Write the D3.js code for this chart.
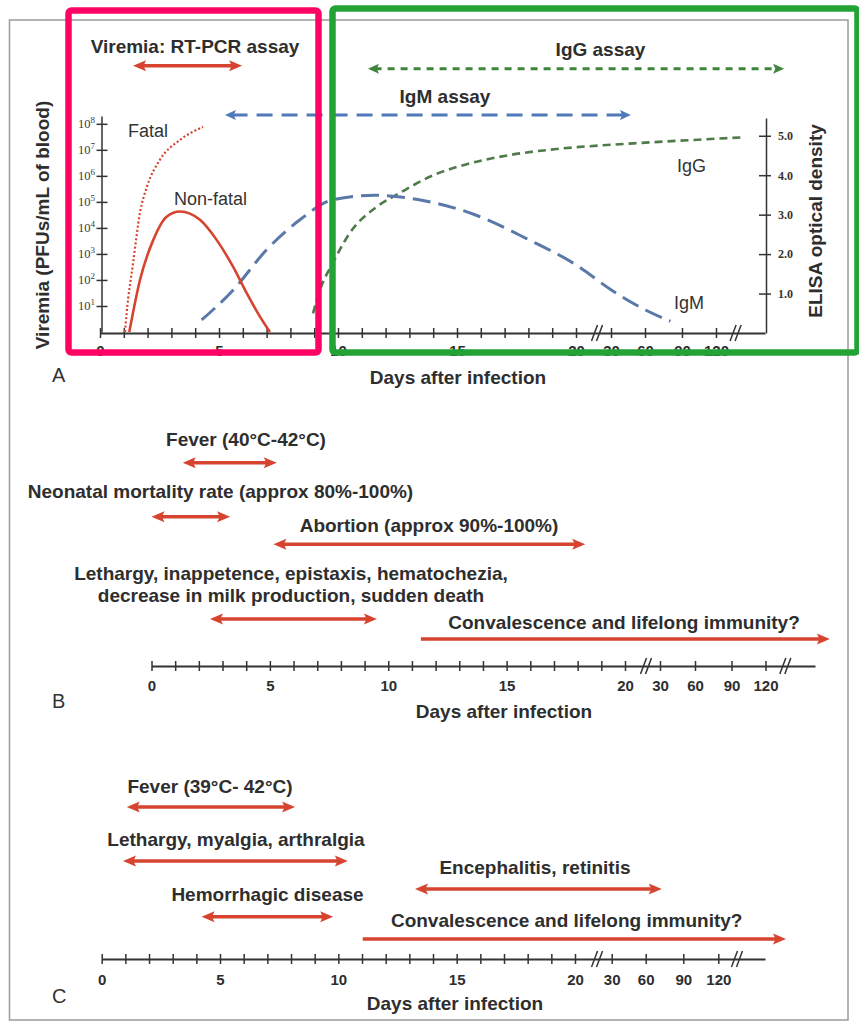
<!DOCTYPE html>
<html>
<head>
<meta charset="utf-8">
<script src="https://cdn.jsdelivr.net/npm/d3@7"></script>
<style>
body { margin: 0; background: #fff; }
svg { display: block; font-family: "Liberation Sans", Arial, Helvetica, sans-serif; }
.lbl { font-weight: bold; font-size: 19px; fill: #2e2e2e; }
.note { font-size: 18px; fill: #333; }
</style>
</head>
<body>
<script>
// ---- data ----
var spanDays = [0, 20, 30, 60, 90, 120, 140];
var dayTicks = d3.range(0, 21);
var tailDays = [30, 60, 90, 120];
var dayLabels = [0, 5, 10, 15, 20, 30, 60, 90, 120];
var breakDays = [26, 128];
var viremiaTicks = [1, 2, 3, 4, 5, 6, 7, 8];
var odTicks = [1, 2, 3, 4, 5];

// [day, log10 PFU/mL]
var fatalCurve = [[1.05, 0], [1.12, 0.73], [1.39, 2.65], [1.68, 4.58], [1.97, 5.58], [2.52, 6.62], [3.36, 7.38], [4.33, 7.88]];
var nonFatalCurve = [[1.23, 0], [1.68, 2.0], [2.24, 3.54], [2.8, 4.43], [3.36, 4.63], [4.2, 4.31], [4.9, 3.54], [5.59, 2.51], [6.16, 1.5], [6.72, 0.59], [7.14, 0]];
// [day, ELISA OD]
var igmCurve = [[4.27, 0.33], [5.6, 1.09], [7.0, 2.11], [8.4, 2.87], [9.79, 3.38], [11.55, 3.49], [13.57, 3.36], [15.7, 3.01], [17.9, 2.4], [20.5, 1.7], [30.3, 1.09], [61.2, 0.57], [80.7, 0.3]];
var iggCurve = [[8.95, 0.5], [9.24, 1.09], [9.79, 1.78], [10.5, 2.54], [11.63, 3.2], [12.6, 3.55], [14, 4.0], [15.3, 4.26], [17.3, 4.52], [19.3, 4.67], [45.9, 4.8], [104, 4.9], [131, 4.96]];

var assayNames = ["Viremia: RT-PCR assay", "IgM assay", "IgG assay"];
var assayStart = [1.39, 5.25, 11.26];
var assayEnd = [5.97, 47.6, 147.8];

var bNames = ["Fever (40°C-42°C)", "Neonatal mortality rate (approx 80%-100%)", "Abortion (approx 90%-100%)",
  "Lethargy, inappetence, epistaxis, hematochezia,\ndecrease in milk production, sudden death", "Convalescence and lifelong immunity?"];
var bStart = [1.32, 0, 5.15, 2.47, 11.38];
var bEnd = [5.29, 3.32, 18.32, 9.52, 146];
var bBoth = [true, true, true, true, false];

var cNames = ["Fever (39°C- 42°C)", "Lethargy, myalgia, arthralgia", "Hemorrhagic disease", "Encephalitis, retinitis", "Convalescence and lifelong immunity?"];
var cStart = [1.06, 0.9, 4.22, 13.24, 11.03];
var cEnd = [8.17, 10.4, 9.78, 72.8, 149];
var cBoth = [true, true, true, true, false];

// ---- layout ----
var RED = "#d6432e";
var svg = d3.select("body").append("svg").attr("width", 859).attr("height", 1025);

svg.append("rect").attr("x", 9.5).attr("y", 20).attr("width", 838.5).attr("height", 1000)
    .attr("fill", "none").attr("stroke", "#9a9a9a").attr("stroke-width", 1.5);

var xA = d3.scaleLinear().domain(spanDays).range([100, 576, 611, 645, 682, 716, 765]);
var xB = d3.scaleLinear().domain(spanDays).range([151.5, 625, 660, 695, 731.5, 765.5, 815]);
var xC = d3.scaleLinear().domain(spanDays).range([101.7, 575, 611.7, 645.7, 683.3, 718.3, 765]);
var yV = d3.scaleLinear().domain([0, 8.3]).range([332, 116]);
var yOD = d3.scaleLinear().domain([0, 5.45]).range([333, 118]);

function arrow(g, x1, x2, y, o) {
    var L = o.head, W = o.w;
    var a = o.both ? x1 + L * 0.6 : x1;
    g.append("line")
        .attr("x1", a).attr("x2", x2 - L * 0.6).attr("y1", y).attr("y2", y)
        .attr("stroke", o.color).attr("stroke-width", o.sw)
        .attr("stroke-dasharray", o.dash || null);
    var head = function (tip, dir) {
        return "M" + tip + "," + y + "L" + (tip - dir * L) + "," + (y - W / 2) +
            "L" + (tip - dir * L * 0.8) + "," + y + "L" + (tip - dir * L) + "," + (y + W / 2) + "Z";
    };
    g.append("path").attr("d", head(x2, 1)).attr("fill", o.color);
    if (o.both) g.append("path").attr("d", head(x1, -1)).attr("fill", o.color);
}

function dayAxis(x, y, ticks, pad) {
    var ax = d3.axisBottom(x)
        .tickValues(ticks.concat(tailDays))
        .tickSizeInner(5).tickSizeOuter(0).tickPadding(pad)
        .tickFormat(function (d) { return dayLabels.indexOf(d) >= 0 ? d : ""; });
    var g = svg.append("g").attr("transform", "translate(0," + y + ")").call(ax);
    g.select(".domain").attr("stroke", "#333").attr("stroke-width", 1.8);
    g.selectAll(".tick line").attr("y1", -5).attr("y2", 5).attr("stroke", "#333").attr("stroke-width", 1.5);
    g.selectAll(".tick text").attr("font-size", 15).attr("font-weight", "bold")
        .attr("font-family", "Liberation Sans, Arial, sans-serif").attr("fill", "#2e2e2e");
    breakDays.forEach(function (d) {
        var bx = x(d);
        [-2.5, 2.5].forEach(function (o) {
            g.append("line").attr("x1", bx + o - 3).attr("x2", bx + o + 3)
                .attr("y1", 8).attr("y2", -8).attr("stroke", "#333").attr("stroke-width", 1.5);
        });
    });
    return g;
}

// ---- panel A ----
dayAxis(xA, 333, dayTicks, 7);

var gl = svg.append("g").attr("transform", "translate(101.5,0)")
    .call(d3.axisLeft(yV).tickValues(viremiaTicks).tickFormat("").tickSizeOuter(0).tickSizeInner(6));
gl.select(".domain").attr("stroke", "#333").attr("stroke-width", 1.5);
gl.selectAll(".tick line").attr("x1", -5).attr("x2", 6).attr("stroke", "#333").attr("stroke-width", 1.5);
viremiaTicks.forEach(function (n) {
    var t = svg.append("text").attr("x", 95).attr("y", yV(n) + 4.5).attr("text-anchor", "end")
        .attr("font-family", "Liberation Serif, serif").attr("font-size", 12.5).attr("fill", "#3a3a3a");
    t.append("tspan").text("10");
    t.append("tspan").attr("dy", -5.5).attr("font-size", 9).text(n);
});

var gr = svg.append("g").attr("transform", "translate(766,0)")
    .call(d3.axisRight(yOD).tickValues(odTicks).tickFormat(d3.format(".1f")).tickSizeOuter(0).tickSizeInner(6).tickPadding(6));
gr.select(".domain").attr("stroke", "#333").attr("stroke-width", 1.5);
gr.selectAll(".tick line").attr("x1", -7).attr("x2", 5).attr("stroke", "#333").attr("stroke-width", 1.5);
gr.selectAll(".tick text").attr("font-family", "Liberation Serif, serif").attr("font-weight", "bold")
    .attr("font-size", 12).attr("fill", "#333");

var lineV = d3.line().x(function (d) { return xA(d[0]); }).y(function (d) { return yV(d[1]); }).curve(d3.curveMonotoneX);
var lineOD = d3.line().x(function (d) { return xA(d[0]); }).y(function (d) { return yOD(d[1]); }).curve(d3.curveMonotoneX);

svg.append("path").attr("d", lineOD(iggCurve)).attr("fill", "none")
    .attr("stroke", "#4f7a4a").attr("stroke-width", 2.6).attr("stroke-dasharray", "8,5");
svg.append("path").attr("d", lineOD(igmCurve)).attr("fill", "none")
    .attr("stroke", "#5a78a8").attr("stroke-width", 3).attr("stroke-dasharray", "18,8");
svg.append("path").attr("d", lineV(nonFatalCurve)).attr("fill", "none")
    .attr("stroke", RED).attr("stroke-width", 2.6);
svg.append("path").attr("d", lineV(fatalCurve)).attr("fill", "none")
    .attr("stroke", RED).attr("stroke-width", 2.2).attr("stroke-dasharray", "2,2.2");

svg.append("text").attr("class", "note").attr("x", 128).attr("y", 137).text("Fatal");
svg.append("text").attr("class", "note").attr("x", 174).attr("y", 205).text("Non-fatal");
svg.append("text").attr("class", "note").attr("x", 677).attr("y", 172).text("IgG");
svg.append("text").attr("class", "note").attr("x", 674).attr("y", 309).text("IgM");

var assayStyle = [
    { color: RED, sw: 3.5, head: 13, w: 11, both: true },
    { color: "#4f79b8", sw: 3, head: 11, w: 10, both: true, dash: "16,9" },
    { color: "#3f853d", sw: 3, head: 11, w: 10, both: true, dash: "7,6" }
];
var assayY = [65.7, 115, 68.7], assayTx = [195, 445, 600.5], assayTy = [53, 103, 56];
assayNames.forEach(function (name, i) {
    arrow(svg, xA(assayStart[i]), xA(assayEnd[i]), assayY[i], assayStyle[i]);
    svg.append("text").attr("class", "lbl").attr("font-size", 19.5).attr("text-anchor", "middle")
        .attr("x", assayTx[i]).attr("y", assayTy[i]).text(name);
});

svg.append("text").attr("transform", "translate(49,225) rotate(-90)").attr("class", "lbl")
    .attr("text-anchor", "middle").attr("font-size", 19.5).text("Viremia (PFUs/mL of blood)");
svg.append("text").attr("transform", "translate(822,221) rotate(-90)").attr("class", "lbl")
    .attr("text-anchor", "middle").attr("font-size", 19.5).text("ELISA optical density");
svg.append("text").attr("class", "lbl").attr("text-anchor", "middle").attr("x", 458).attr("y", 384).text("Days after infection");
svg.append("text").attr("x", 52).attr("y", 382).attr("font-size", 20).attr("fill", "#333").text("A");

// ---- panels B and C ----
function timeline(x, names, start, end, both, arrowY, textX, textY) {
    names.forEach(function (name, i) {
        arrow(svg, x(start[i]), x(end[i]), arrowY[i], { color: RED, sw: 3.5, head: 13, w: 11, both: both[i] });
        var t = svg.append("text").attr("class", "lbl").attr("text-anchor", "middle")
            .attr("x", textX[i]).attr("y", textY[i]);
        name.split("\n").forEach(function (s, k) {
            t.append("tspan").attr("x", textX[i]).attr("dy", k ? 22 : 0).text(s);
        });
    });
}

timeline(xB, bNames, bStart, bEnd, bBoth,
    [462.7, 516.7, 544.3, 619, 639], [246, 220.5, 429, 291, 624], [445.5, 498, 531.5, 579.5, 628.5]);
dayAxis(xB, 666, dayTicks, 9);
svg.append("text").attr("class", "lbl").attr("text-anchor", "middle").attr("x", 504).attr("y", 718).text("Days after infection");
svg.append("text").attr("x", 52).attr("y", 708).attr("font-size", 20).attr("fill", "#333").text("B");

timeline(xC, cNames, cStart, cEnd, cBoth,
    [807, 861, 916.7, 889, 939], [210, 236, 267.5, 535, 566.7], [793, 845.5, 900.5, 873.5, 926.5]);
dayAxis(xC, 959, dayTicks, 10);
svg.append("text").attr("class", "lbl").attr("text-anchor", "middle").attr("x", 455).attr("y", 1010).text("Days after infection");
svg.append("text").attr("x", 52).attr("y", 1003).attr("font-size", 20).attr("fill", "#333").text("C");

// ---- highlight boxes ----
svg.append("rect").attr("x", 68.5).attr("y", 10.5).attr("width", 250).attr("height", 342)
    .attr("rx", 3).attr("fill", "none").attr("stroke", "#fd0364").attr("stroke-width", 6.5);
svg.append("rect").attr("x", 332.5).attr("y", 8.5).attr("width", 525).attr("height", 344)
    .attr("rx", 3).attr("fill", "none").attr("stroke", "#23a236").attr("stroke-width", 6.5);
</script>
</body>
</html>
